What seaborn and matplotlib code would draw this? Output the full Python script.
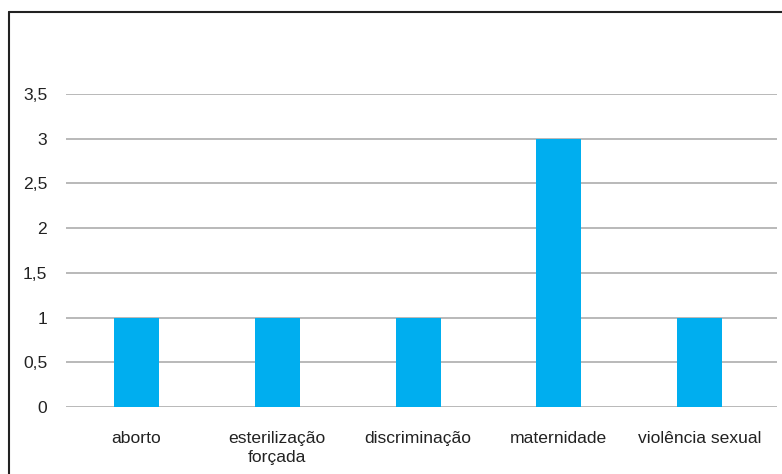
import matplotlib
matplotlib.use("Agg")
import matplotlib.pyplot as plt
import seaborn as sns
import pandas as pd
from matplotlib.lines import Line2D

categories = ["aborto", "esterilização\nforçada", "discriminação", "maternidade", "violência sexual"]
values = [1, 1, 1, 3, 1]
yticks = [0, 0.5, 1, 1.5, 2, 2.5, 3, 3.5]
ytick_labels = ["0", "0,5", "1", "1,5", "2", "2,5", "3", "3,5"]

sns.set_style("white")
plt.rcParams["font.family"] = ["Liberation Sans", "DejaVu Sans"]

W, H = 782, 474
fig = plt.figure(figsize=(W / 100, H / 100), dpi=100)
ax = fig.add_axes([66 / W, (H - 407) / H, (777 - 66) / W, (407 - 94) / H])

df = pd.DataFrame({"cat": categories, "val": values})
sns.barplot(data=df, x="cat", y="val", color="#00AEEF", saturation=1, width=0.32,
            linewidth=0, ax=ax, zorder=3)

ax.set_ylim(0, 3.5)
ax.set_xlim(-0.501, 4.55)
ax.set_yticks(yticks)
ax.set_yticklabels(ytick_labels)
ax.grid(axis="y", color="#A6A6A6", linewidth=1.1, zorder=0)
ax.set_axisbelow(True)
for s in ax.spines.values():
    s.set_visible(False)
ax.set_xlabel("")
ax.set_ylabel("")
ax.tick_params(axis="y", length=0, pad=13.5, labelsize=12.6, labelcolor="#222222")
ax.tick_params(axis="x", length=0, pad=17.5, labelsize=12.6, labelcolor="#222222")
for lbl in ax.get_xticklabels():
    lbl.set_linespacing(1.3)

# figure frame (left and top lines)
fig.add_artist(Line2D([8.5 / W, 8.5 / W], [0, (H - 12) / H], color="#222222", linewidth=1.5, transform=fig.transFigure))
fig.add_artist(Line2D([8.5 / W, 1], [(H - 12) / H, (H - 12) / H], color="#222222", linewidth=1.5, transform=fig.transFigure))

fig.savefig("out.png", dpi=100)
